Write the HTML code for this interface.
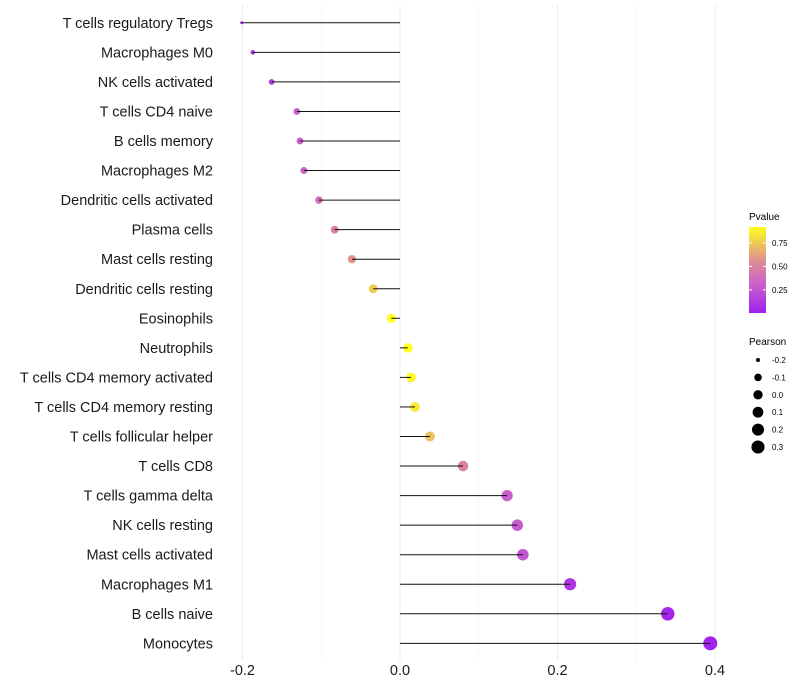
<!DOCTYPE html>
<html><head><meta charset="utf-8"><style>
body{margin:0;background:#fff;}
svg{display:block;font-family:"Liberation Sans",sans-serif;}
</style></head><body>
<svg id="chart" width="800" height="700">
<defs><linearGradient id="pg" x1="0" y1="1" x2="0" y2="0">
<stop offset="0" stop-color="#a020f0"/><stop offset="0.35" stop-color="#cd64c8"/><stop offset="0.6" stop-color="#dc8c96"/><stop offset="1" stop-color="#ffff1a"/>
</linearGradient></defs>
<g id="grid"></g><g id="dots"></g><g id="stems"></g><g id="labels"></g><g id="xticks"></g>
<g>
<text x="749" y="220" font-size="10">Pvalue</text>
<rect x="749" y="227" width="17" height="86" fill="url(#pg)"/>
<g id="cbticks"></g>
</g>
<g id="sizeLegend">
<text x="749" y="345" font-size="10">Pearson</text>
</g>
</svg>
<script>
const categories=["T cells regulatory  Tregs","Macrophages M0","NK cells activated","T cells CD4 naive","B cells memory","Macrophages M2","Dendritic cells activated","Plasma cells","Mast cells resting","Dendritic cells resting","Eosinophils","Neutrophils","T cells CD4 memory activated","T cells CD4 memory resting","T cells follicular helper","T cells CD8","T cells gamma delta","NK cells resting","Mast cells activated","Macrophages M1","B cells naive","Monocytes"];
const pearson=[-0.201,-0.187,-0.163,-0.131,-0.127,-0.122,-0.103,-0.083,-0.061,-0.034,-0.011,0.010,0.014,0.019,0.038,0.080,0.136,0.149,0.156,0.216,0.340,0.394];
const pvalue=[0.05,0.12,0.15,0.3,0.3,0.32,0.38,0.48,0.58,0.75,0.92,0.92,0.9,0.85,0.72,0.5,0.3,0.28,0.25,0.1,0.03,0.01];
const xTicks=[-0.2,0,0.2,0.4];
const xTickLabels=["-0.2","0.0","0.2","0.4"];
const cbTicks=[0.25,0.5,0.75];
const sizeLegend=[-0.2,-0.1,0.0,0.1,0.2,0.3];
const ns="http://www.w3.org/2000/svg";
function mk(t,a,p){const e=document.createElementNS(ns,t);for(const k in a)e.setAttribute(k,a[k]);p.appendChild(e);return e;}
const X=v=>400+v*787.5;
const Y=i=>22.8+i*29.55;
const R=v=>1.5+5.5*Math.sqrt(Math.max(0,(v+0.201)/0.595));
const PMIN=0.003,PMAX=0.92;
const stops=[[0,[160,32,240]],[0.35,[205,100,200]],[0.6,[220,140,150]],[1,[255,255,26]]];
function col(p){let t=(p-PMIN)/(PMAX-PMIN);t=Math.max(0,Math.min(1,t));
for(let k=0;k<stops.length-1;k++){const [t0,a]=stops[k],[t1,b]=stops[k+1];
if(t<=t1){const u=(t-t0)/(t1-t0);return "rgb("+a.map((x,i)=>Math.round(x+(b[i]-x)*u)).join(",")+")";}}
return "rgb(255,255,26)";}
const grid=document.getElementById('grid');
for(let v=-0.2;v<=0.401;v+=0.1){const l=mk('line',{x1:X(v),x2:X(v),y1:5,y2:660,stroke:'#ebebeb','stroke-width':Math.abs(Math.round(v*10))%2==0?1:0.5},grid);
}
const dots=document.getElementById('dots'),stems=document.getElementById('stems'),labels=document.getElementById('labels');
categories.forEach((c,i)=>{
const d=mk('circle',{cx:X(pearson[i]),cy:Y(i),r:R(pearson[i]),fill:col(pvalue[i])},dots);

const l=mk('line',{x1:X(0),x2:X(pearson[i]),y1:Y(i),y2:Y(i),stroke:'#111','stroke-width':1},stems);

const t=mk('text',{x:213,y:Y(i)+5,'text-anchor':'end','font-size':14.5,fill:'#1a1a1a'},labels);t.textContent=c;

});
const xt=document.getElementById('xticks');
xTicks.forEach((v,i)=>{const t=mk('text',{x:X(v),y:675,'text-anchor':'middle','font-size':14.5,fill:'#1a1a1a'},xt);t.textContent=xTickLabels[i];
});
const cb=document.getElementById('cbticks');
cbTicks.forEach(v=>{const y=313-(v-PMIN)/(PMAX-PMIN)*86;
const l=mk('line',{x1:749,x2:752,y1:y,y2:y,stroke:'#fff'},cb);
const l2=mk('line',{x1:763,x2:766,y1:y,y2:y,stroke:'#fff'},cb);
const t=mk('text',{x:772,y:y+3,'font-size':8},cb);t.textContent=v.toFixed(2);});
const sl=document.getElementById('sizeLegend');
sizeLegend.forEach((v,i)=>{const y=360+i*17.4;
const c=mk('circle',{cx:758,cy:y,r:Math.max(2,R(v)),fill:'#000'},sl);
const t=mk('text',{x:772,y:y+3,'font-size':8},sl);t.textContent=v.toFixed(1);});
</script>
</body></html>
